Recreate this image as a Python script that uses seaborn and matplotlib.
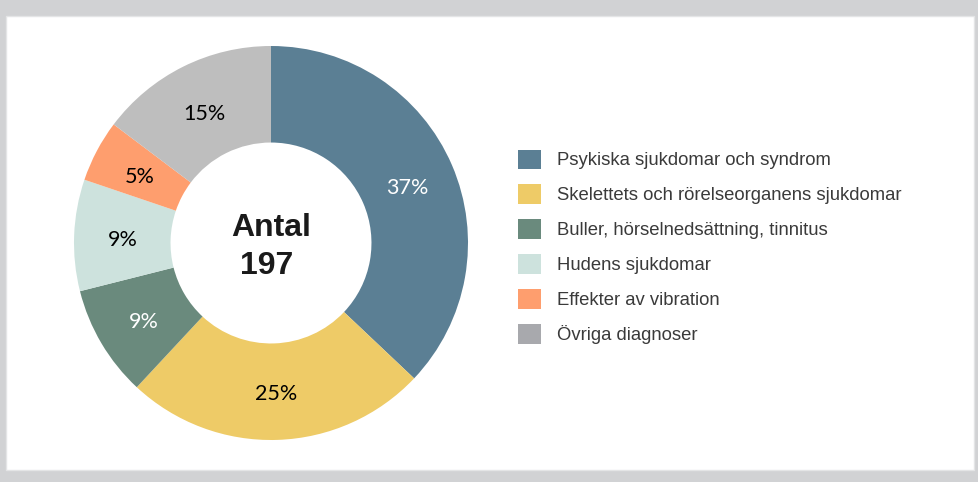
import matplotlib
matplotlib.use("Agg")
import matplotlib.pyplot as plt
import seaborn as sns
import numpy as np
from matplotlib.patches import Rectangle, Patch

categories = ["Psykiska sjukdomar och syndrom",
              "Skelettets och rörelseorganens sjukdomar",
              "Buller, hörselnedsättning, tinnitus",
              "Hudens sjukdomar",
              "Effekter av vibration",
              "Övriga diagnoser"]
counts = [73, 49, 18, 18, 10, 29]
pct_labels = ["37%", "25%", "9%", "9%", "5%", "15%"]
center_title = "Antal"
center_total = "197"

slice_colors = ["#5b7f94", "#eecb67", "#6a8a7d", "#cde2dd", "#fe9e6e", "#bebebe"]
legend_colors = ["#5b7f94", "#eecb67", "#6a8a7d", "#cde2dd", "#fe9e6e", "#a8a9ad"]
label_colors = ["white", "black", "white", "black", "black", "black"]

sns.set_theme(style="white")
plt.rcParams['font.family'] = ['Liberation Sans', 'DejaVu Sans']

W, H = 979, 482
fig = plt.figure(figsize=(W / 100, H / 100), dpi=100)
fig.patch.set_facecolor("#d1d2d4")
fig.patches.append(Rectangle((6 / W, 1 - 470 / H), 968 / W, 454 / H,
                             transform=fig.transFigure, facecolor="white",
                             edgecolor="#e4e5e6", linewidth=1, zorder=-10))

ax = fig.add_axes([74 / W, 1 - 440 / H, 394 / W, 394 / H])
ax.set_facecolor("none")
ax.set_zorder(5)
wedges, _ = ax.pie(counts, colors=slice_colors, startangle=90, counterclock=False,
                   radius=1.0, wedgeprops=dict(width=0.49, linewidth=0),
                   labels=None)
total = sum(counts)
cum = 0
for c, lab, col in zip(counts, pct_labels, label_colors):
    mid = (cum + c / 2) / total
    ang = np.deg2rad(90 - 360 * mid)
    r = 0.752
    ax.text(r * np.cos(ang), r * np.sin(ang) - 0.017, lab, ha="center", va="center",
            fontsize=15.5, color=col, family=["Lato", "DejaVu Sans"])
    cum += c
ax.text(0.0, 0.075, center_title, ha="center", va="center", fontsize=23,
        fontweight="bold", color="#1a1a1a")
ax.text(-0.02, -0.115, center_total, ha="center", va="center", fontsize=23,
        fontweight="bold", color="#1a1a1a")
ax.set_xlim(-1, 1)
ax.set_ylim(-1, 1)
ax.set_aspect("equal")
ax.axis("off")

handles = [Patch(facecolor=c, edgecolor="none") for c in legend_colors]
fs = 13.3
fspx = fs * 100 / 72
leg = fig.legend(handles, categories, loc="upper left",
                 bbox_to_anchor=(518 / W, 1 - 149.5 / H), frameon=False,
                 fontsize=fs, borderpad=0, borderaxespad=0,
                 handlelength=23 / fspx, handleheight=23 / fspx,
                 handletextpad=16 / fspx, labelspacing=0.81,
                 labelcolor="#3a3a3a")

fig.savefig("out.png", dpi=100, facecolor=fig.get_facecolor())
